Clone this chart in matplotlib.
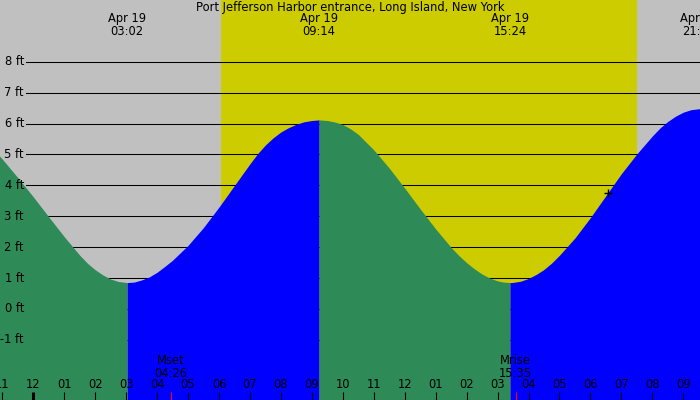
import matplotlib
matplotlib.use("Agg")
import matplotlib.pyplot as plt
import matplotlib.transforms as mtransforms

TITLE = "Port Jefferson Harbor entrance, Long Island, New York"

# tide height (ft), hours after midnight Apr 19
tide_hours = [-1.5, -1.0, -0.5, 0.0, 0.5, 1.0, 1.5, 1.75, 2.0, 2.25, 2.5, 2.75, 3.033,
              3.25, 3.5, 3.75, 4.0, 4.25, 4.5, 5.0, 5.5, 6.0, 6.5, 7.0, 7.25, 7.5, 7.75,
              8.0, 8.25, 8.5, 8.75, 9.0, 9.233,
              9.5, 9.75, 10.0, 10.25, 10.5, 11.0, 11.5, 12.0, 12.5, 13.0, 13.5, 13.75,
              14.0, 14.25, 14.5, 14.75, 15.0, 15.2, 15.4,
              15.5, 15.75, 16.0, 16.25, 16.5, 16.75, 17.0, 17.5, 18.0, 18.5, 19.0, 19.5,
              20.0, 20.25, 20.5, 20.75, 21.0, 21.25, 21.5, 21.75, 22.0]
tide_ft = [5.40, 4.85, 4.25, 3.63, 2.98, 2.34, 1.74, 1.48, 1.27, 1.10, 0.97, 0.89, 0.855,
           0.87, 0.94, 1.04, 1.19, 1.38, 1.58, 2.06, 2.64, 3.30, 4.00, 4.70, 5.03, 5.31, 5.54,
           5.73, 5.87, 5.98, 6.06, 6.10, 6.12,
           6.10, 6.05, 5.97, 5.83, 5.65, 5.15, 4.56, 3.91, 3.24, 2.59, 1.99, 1.73,
           1.50, 1.30, 1.13, 1.00, 0.91, 0.87, 0.855,
           0.86, 0.90, 0.99, 1.12, 1.28, 1.49, 1.74, 2.30, 2.96, 3.67, 4.38, 5.02,
           5.60, 5.86, 6.07, 6.24, 6.37, 6.45, 6.48, 6.47, 6.43]

# high / low tide events
event_hours = [3.033, 9.233, 15.4, 21.5]
event_labels = ["Apr 19\n03:02", "Apr 19\n09:14", "Apr 19\n15:24", "Apr 19\n21:30"]

sunrise, sunset = 6.065, 19.5
moon_hours = [4.433, 15.583]
moon_labels = ["Mset\n04:26", "Mrise\n15:35"]

now_hour, now_ft = 18.57, 3.75

grid_ft = [-1, 0, 1, 2, 3, 4, 5, 6, 7, 8]
hour_ticks = list(range(-1, 22))

GRAY = "#C0C0C0"
YELLOW = "#CCCC00"
GREEN = "#2E8B57"
BLUE = "#0000FF"
FS = 8.3

fig = plt.figure(figsize=(7, 4), dpi=100)
fig.patch.set_facecolor(GRAY)
ax = fig.add_axes([0, 0, 1, 1])
ax.set_facecolor(GRAY)
ax.set_axis_off()
x0, x1 = -1.076, 21.54
y0, y1 = -2.945, 10.0
ax.set_xlim(x0, x1)
ax.set_ylim(y0, y1)

ax.axvspan(sunrise, sunset, color=YELLOW, lw=0, zorder=0)

# grid lines sit under the water
left = mtransforms.blended_transform_factory(ax.transAxes, ax.transData)
for g in grid_ft:
    ax.axhline(g, xmin=26 / 700, xmax=1, color="black", lw=0.75, zorder=1)
    ax.text(24 / 700, g, f"{g} ft", transform=left,
            ha="right", va="center", fontsize=FS, color="black", zorder=5)

# water, green when falling and blue when rising
cuts = [tide_hours[0]] + event_hours[:3] + [tide_hours[-1]]
for a, b in zip(cuts[:-1], cuts[1:]):
    seg = [(t, h) for t, h in zip(tide_hours, tide_ft) if a <= t <= b]
    ts = [s[0] for s in seg]
    hs = [s[1] for s in seg]
    colour = GREEN if hs[-1] < hs[0] else BLUE
    ax.fill_between(ts, y0 - 1, hs, color=colour, lw=0, zorder=2)

ax.plot([now_hour], [now_ft], marker="+", color="black", ms=6, mew=1, zorder=6)

top = mtransforms.blended_transform_factory(ax.transData, ax.transAxes)
ax.text(0.5, 1 - 7.5 / 400, TITLE, transform=ax.transAxes, ha="center", va="center",
        fontsize=FS, zorder=6)
for t, lab in zip(event_hours, event_labels):
    ax.text(t, 1 - 25 / 400, lab, transform=top, ha="center", va="center",
            fontsize=FS, linespacing=0.95, zorder=6)

for t, lab in zip(moon_hours, moon_labels):
    ax.text(t, 33 / 400, lab, transform=top, ha="center", va="center",
            fontsize=FS, linespacing=0.95, zorder=6)
    ax.plot([t, t], [0, 8 / 400], transform=top, color="red", lw=0.8, zorder=6,
            solid_capstyle="butt")

for h in hour_ticks:
    lab = f"{(h % 12) or 12:02d}"
    ax.text(h, 15 / 400, lab, transform=top, ha="center", va="center", fontsize=FS, zorder=6)
    ax.plot([h, h], [0, 8 / 400], transform=top, color="black",
            lw=2.2 if h == 0 else 0.8, solid_capstyle="butt", zorder=6)

fig.savefig("out.png", dpi=100, facecolor=GRAY)
